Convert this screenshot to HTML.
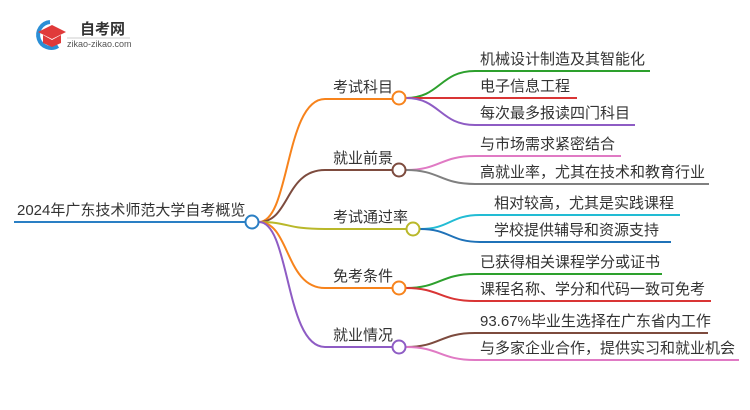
<!DOCTYPE html>
<html><head><meta charset="utf-8"><style>
body{margin:0;background:#fff;}
svg{display:block;}
text{font-family:"Liberation Sans","Noto Sans CJK SC",sans-serif;font-size:15px;fill:#333;}
</style></head><body>
<svg width="750" height="410" viewBox="0 0 750 410" xmlns="http://www.w3.org/2000/svg">
<path d="M50 22 A13 13 0 1 0 58 46" fill="none" stroke="#2b8fd6" stroke-width="4"/>
<path d="M38 32 L52 25 L66 32 L52 39 Z" fill="#e03a3a"/>
<path d="M43 35 L43 43 L52 47 L61 43 L61 35 L52 40 Z" fill="#e03a3a"/>
<text x="80" y="34" style="font-size:15px;font-weight:bold;fill:#333">自考网</text>
<line x1="67" y1="38" x2="130" y2="38" stroke="#ccc" stroke-width="1"/>
<text x="67" y="47" style="font-size:9px;fill:#555">zikao-zikao.com</text>

<g fill="none" stroke-width="2">
<line x1="14" y1="222" x2="245" y2="222" stroke="#2a7fc4"/>
<path d="M259 222 C290 222,285 99,325 99 L392 99" stroke="#f7831c"/>
<path d="M259 222 C290 222,285 170,325 170 L392 170" stroke="#7d4b3e"/>
<path d="M259 222 C290 222,285 229,325 229 L406 229" stroke="#b9b82a"/>
<path d="M259 222 C290 222,285 288,325 288 L392 288" stroke="#f7831c"/>
<path d="M259 222 C290 222,285 347,325 347 L392 347" stroke="#8e5cc4"/>
<path d="M406 98 C440 98,440 71,475 71 L650 71" stroke="#2da02d"/>
<path d="M406 98 L577 98" stroke="#d93535"/>
<path d="M406 98 C440 98,440 125,475 125 L635 125" stroke="#8e5cc4"/>
<path d="M406 170 C440 170,440 156,475 156 L621 156" stroke="#e07ac4"/>
<path d="M406 170 C440 170,440 184,475 184 L709 184" stroke="#808080"/>
<path d="M420 229 C450 229,450 215,480 215 L680 215" stroke="#22bcd4"/>
<path d="M420 229 C450 229,450 242,480 242 L671 242" stroke="#1f72b8"/>
<path d="M406 288 C440 288,440 274,475 274 L662 274" stroke="#2da02d"/>
<path d="M406 288 C440 288,440 301,475 301 L711 301" stroke="#d93535"/>
<path d="M406 347 C440 347,440 333,475 333 L708 333" stroke="#7d4b3e"/>
<path d="M406 347 C440 347,440 360,475 360 L739 360" stroke="#e07ac4"/>
</g>
<g fill="#fff" stroke-width="2">
<circle cx="252" cy="222" r="6.5" stroke="#2a7fc4"/>
<circle cx="399" cy="98" r="6.5" stroke="#f7831c"/>
<circle cx="399" cy="170" r="6.5" stroke="#7d4b3e"/>
<circle cx="413" cy="229" r="6.5" stroke="#b9b82a"/>
<circle cx="399" cy="288" r="6.5" stroke="#f7831c"/>
<circle cx="399" cy="347" r="6.5" stroke="#8e5cc4"/>
</g>
<text x="17" y="215">2024年广东技术师范大学自考概览</text>
<text x="333" y="92">考试科目</text>
<text x="333" y="163">就业前景</text>
<text x="333" y="222">考试通过率</text>
<text x="333" y="281">免考条件</text>
<text x="333" y="340">就业情况</text>
<text x="480" y="64">机械设计制造及其智能化</text>
<text x="480" y="91">电子信息工程</text>
<text x="480" y="118">每次最多报读四门科目</text>
<text x="480" y="149">与市场需求紧密结合</text>
<text x="480" y="177">高就业率，尤其在技术和教育行业</text>
<text x="494" y="208">相对较高，尤其是实践课程</text>
<text x="494" y="235">学校提供辅导和资源支持</text>
<text x="480" y="267">已获得相关课程学分或证书</text>
<text x="480" y="294">课程名称、学分和代码一致可免考</text>
<text x="480" y="326">93.67%毕业生选择在广东省内工作</text>
<text x="480" y="353">与多家企业合作，提供实习和就业机会</text>
</svg>
</body></html>
